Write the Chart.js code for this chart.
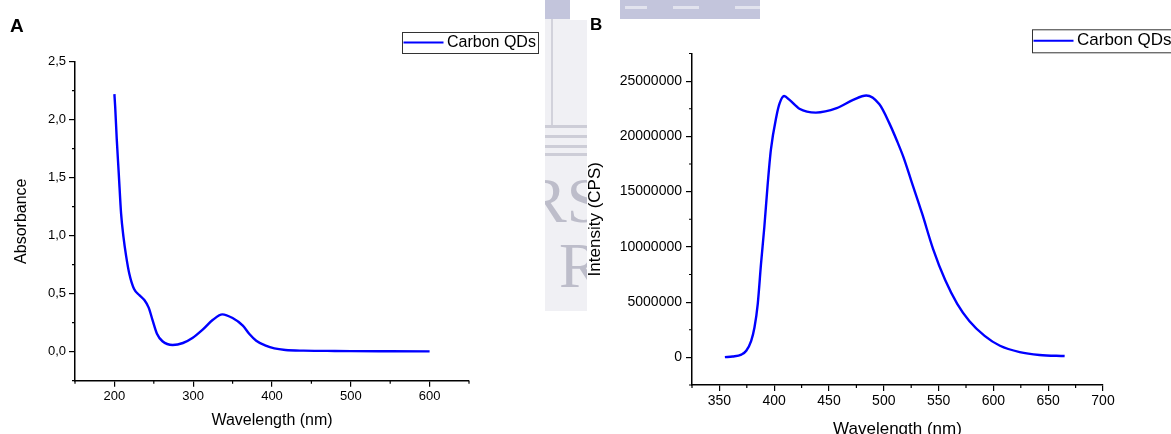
<!DOCTYPE html>
<html>
<head>
<meta charset="utf-8">
<script src="https://cdn.jsdelivr.net/npm/chart.js@4.4.1/dist/chart.umd.min.js"></script>
<style>
  html, body { margin: 0; padding: 0; background: #fff; width: 1171px; height: 434px; overflow: hidden; }
  .wrap { position: absolute; top: 0; }
  #wrapA { left: 0; width: 545px; height: 434px; }
  #wrapB { left: 560px; width: 611px; height: 445px; }
  .tag { position: absolute; font-family: "Liberation Sans", Arial, sans-serif; font-weight: bold; color: #000; }
  /* faded thesis-page background between the panels */
  .bg { position: absolute; }
  #band { left: 545px; top: 0; width: 215px; height: 19px; background: #c3c5dc; }
  #strip { left: 545px; top: 19px; width: 42px; height: 292px; background: #f0f0f4; overflow: hidden; }
  #strip span { position: absolute; font-family: "Liberation Serif", serif; color: #bdbdca; font-size: 64px; line-height: 64px; }
  .hl { position: absolute; left: 0; width: 42px; height: 3px; background: #cdcdd7; }
  .dash { position: absolute; top: 6px; height: 3px; background: #e2e3ee; }
</style>
</head>
<body>
<div class="bg" id="band">
  <div class="dash" style="left:80px;width:22px"></div>
  <div class="dash" style="left:128px;width:26px"></div>
  <div class="dash" style="left:190px;width:25px"></div>
</div>
<div class="bg" id="strip">
  <div style="position:absolute;left:6px;top:0;width:2px;height:106px;background:#d2d2db"></div>
  <div class="hl" style="top:106px"></div>
  <div class="hl" style="top:116px"></div>
  <div class="hl" style="top:126px"></div>
  <div class="hl" style="top:134px"></div>
  <span style="left:-21px;top:150px">RS</span>
  <span style="left:14px;top:215px">R</span>
</div>
<div class="bg" style="left:570px;top:0;width:50px;height:20px;background:#fff"></div>

<div class="wrap" id="wrapA"><canvas id="chartA"></canvas></div>
<div class="wrap" id="wrapB"><canvas id="chartB"></canvas></div>
<div class="tag" style="left:10px;top:16px;font-size:19px;line-height:19px">A</div>
<div class="tag" style="left:590px;top:16px;font-size:17px;line-height:17px">B</div>

<script>
// A: UV-vis absorbance
const wavelengthA = [200, 201, 203, 205.5, 208.5, 211.5, 215, 219, 225, 232,
                     238, 243.5, 248.5, 254, 261, 274, 287, 299, 312, 325,
                     337, 350, 363, 371, 380, 392, 403, 417, 440, 470,
                     500, 550, 600];
const absorbanceA = [2.22, 2.11, 1.83, 1.54, 1.19, 0.99, 0.82, 0.67, 0.54, 0.485,
                     0.445, 0.38, 0.27, 0.155, 0.09, 0.058, 0.075, 0.118, 0.19, 0.275,
                     0.322, 0.29, 0.225, 0.155, 0.095, 0.052, 0.028, 0.015, 0.009, 0.007,
                     0.005, 0.004, 0.003];
const majorXA = [200, 300, 400, 500, 600];
const minorXA = [150, 250, 350, 450, 550, 650];
const majorYA = [0, 0.5, 1, 1.5, 2, 2.5];
const minorYA = [-0.25, 0.25, 0.75, 1.25, 1.75, 2.25];

// B: photoluminescence emission
const wavelengthB = [355, 362, 370, 374.5, 379, 382, 385, 388, 391, 394,
                     397, 402, 405, 409, 414, 423, 438, 457, 472, 484,
                     496, 505, 512, 518, 525, 535, 545, 556, 567, 578,
                     592, 606, 624, 642, 665];
const intensityB = [20000, 80000, 250000, 600000, 1500000, 2700000, 4850000, 8500000, 11800000, 15600000,
                    18800000, 21800000, 23000000, 23650000, 23300000, 22500000, 22150000, 22550000, 23300000, 23700000,
                    22900000, 21200000, 19600000, 18100000, 16000000, 13000000, 9800000, 7000000, 4850000, 3300000,
                    1950000, 1050000, 480000, 220000, 120000];
const majorXB = [350, 400, 450, 500, 550, 600, 650, 700];
const minorXB = [325, 375, 425, 475, 525, 575, 625, 675];
const majorYB = [0, 5000000, 10000000, 15000000, 20000000, 25000000];
const minorYB = [-2500000, 2500000, 7500000, 12500000, 17500000, 22500000, 27500000];

const seriesName = 'Carbon QDs';

Chart.defaults.font.family = '"Liberation Sans", Arial, sans-serif';
Chart.defaults.color = '#000';

// short unlabeled ticks between the labelled ones
const minorTicks = {
  id: 'minorTicks',
  afterDraw(chart, args, o) {
    const { ctx, scales: { x, y } } = chart;
    ctx.save();
    ctx.strokeStyle = '#000';
    ctx.lineWidth = 1.2;
    ctx.beginPath();
    o.x.forEach(v => { const p = x.getPixelForValue(v); ctx.moveTo(p, x.top); ctx.lineTo(p, x.top + o.len); });
    o.y.forEach(v => { const p = y.getPixelForValue(v); ctx.moveTo(y.right, p); ctx.lineTo(y.right - o.len, p); });
    ctx.stroke();
    ctx.restore();
  }
};

// framed legend like Origin draws it
const boxLegend = {
  id: 'boxLegend',
  afterDraw(chart, args, o) {
    const ctx = chart.ctx;
    const ds = chart.data.datasets[0];
    const mid = o.y + o.h / 2;
    ctx.save();
    ctx.strokeStyle = '#333';
    ctx.lineWidth = 1;
    ctx.strokeRect(o.x + 0.5, o.y + 0.5, o.w, o.h);
    ctx.strokeStyle = ds.borderColor;
    ctx.lineWidth = 2;
    ctx.beginPath();
    ctx.moveTo(o.x + 1.5, mid);
    ctx.lineTo(o.x + 1.5 + o.line, mid);
    ctx.stroke();
    ctx.fillStyle = '#000';
    ctx.font = o.font;
    ctx.textBaseline = 'middle';
    ctx.fillText(ds.label, o.x + o.line + 5, mid);
    ctx.restore();
  }
};

function makeChart(id, xs, ys, cfg) {
  new Chart(document.getElementById(id), {
    type: 'line',
    data: {
      datasets: [{
        label: seriesName,
        data: xs.map((x, i) => ({ x: x, y: ys[i] })),
        borderColor: '#0000ff',
        borderWidth: 2.4,
        pointRadius: 0,
        cubicInterpolationMode: 'monotone',
        fill: false
      }]
    },
    options: {
      responsive: true,
      maintainAspectRatio: false,
      animation: false,
      events: [],
      layout: { padding: cfg.padding },
      plugins: {
        legend: { display: false },
        tooltip: { enabled: false },
        minorTicks: { x: cfg.minorX, y: cfg.minorY, len: 3 },
        boxLegend: cfg.legend
      },
      scales: {
        x: {
          type: 'linear',
          min: cfg.xMin, max: cfg.xMax,
          afterBuildTicks: s => { s.ticks = cfg.majorX.map(v => ({ value: v })); },
          afterFit: s => { s.height = cfg.xHeight; },
          grid: { drawOnChartArea: false, tickLength: 6, color: '#000', lineWidth: 1.2 },
          border: { color: '#000', width: 1.5 },
          ticks: { font: { size: cfg.tickSize }, padding: 2, maxRotation: 0, autoSkip: false },
          title: { display: true, text: 'Wavelength (nm)', font: { size: cfg.titleSize },
                   padding: { top: 0, bottom: cfg.xTitlePad } }
        },
        y: {
          type: 'linear',
          min: cfg.yMin, max: cfg.yMax,
          afterBuildTicks: s => { s.ticks = cfg.majorY.map(v => ({ value: v })); },
          afterFit: s => { s.width = cfg.yWidth; },
          grid: { drawOnChartArea: false, tickLength: 6, color: '#000', lineWidth: 1.2 },
          border: { color: '#000', width: 1.5 },
          ticks: { font: { size: cfg.tickSize }, padding: cfg.yTickPad, autoSkip: false, callback: cfg.fmt },
          title: { display: true, text: cfg.yTitle, font: { size: cfg.titleSize },
                   padding: { top: cfg.yTitlePad, bottom: 0 } }
        }
      }
    },
    plugins: [minorTicks, boxLegend]
  });
}

makeChart('chartA', wavelengthA, absorbanceA, {
  padding: { top: 61.7, right: 76, bottom: 0, left: 0 },
  xMin: 150, xMax: 650, yMin: -0.25, yMax: 2.5,
  majorX: majorXA, minorX: minorXA, majorY: majorYA, minorY: minorYA,
  xHeight: 53.3, yWidth: 75,
  tickSize: 13, titleSize: 16, xTitlePad: 3.4, yTitlePad: 12.4, yTickPad: 3,
  yTitle: 'Absorbance',
  fmt: v => v.toFixed(1).replace('.', ','),
  legend: { x: 402, y: 32, w: 136, h: 21, line: 40, font: '16px "Liberation Sans", Arial, sans-serif' }
});

makeChart('chartB', wavelengthB, intensityB, {
  padding: { top: 53.5, right: 68, bottom: 0, left: 0 },
  xMin: 325, xMax: 700, yMin: -2500000, yMax: 27500000,
  majorX: majorXB, minorX: minorXB, majorY: majorYB, minorY: minorYB,
  xHeight: 60, yWidth: 132,
  tickSize: 14, titleSize: 17, xTitlePad: 5.5, yTitlePad: 24.8, yTickPad: 4,
  yTitle: 'Intensity (CPS)',
  fmt: v => String(v),
  legend: { x: 472, y: 29.3, w: 160, h: 23, line: 40, font: '17px "Liberation Sans", Arial, sans-serif' }
});
</script>
</body>
</html>
